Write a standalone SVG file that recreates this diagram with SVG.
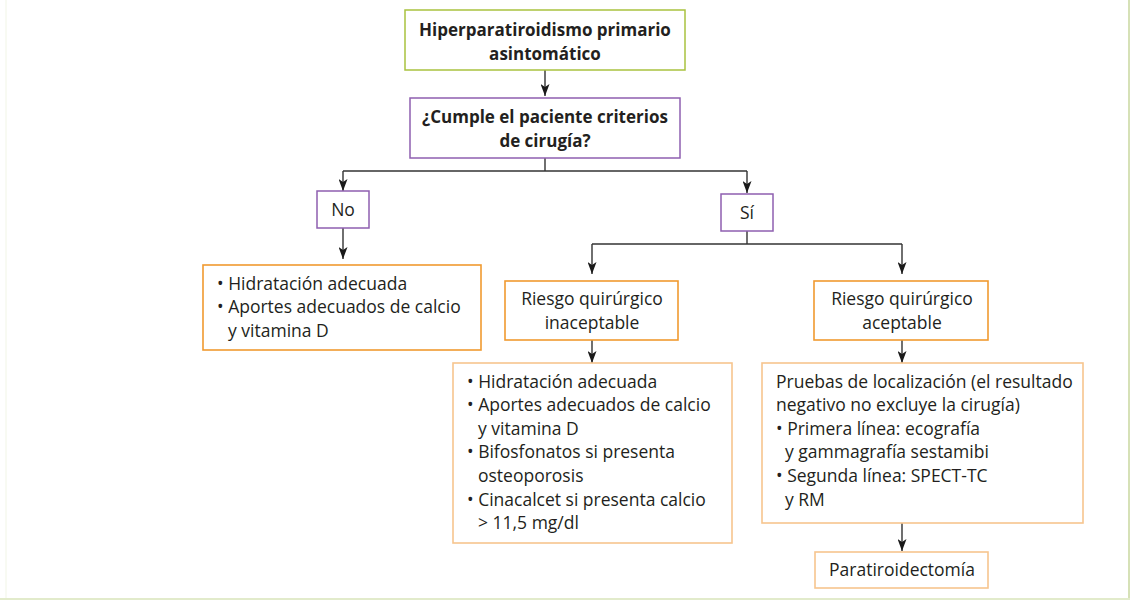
<svg xmlns="http://www.w3.org/2000/svg" width="1130" height="601" viewBox="0 0 1130 601">
<style>
text{font-family:"Open Sans","Noto Sans","Liberation Sans",sans-serif;font-size:17.5px;fill:#231f20}
.b{font-weight:bold;font-size:17px}
.c{text-anchor:middle}
.g{fill:#fff;stroke:#a9c23f;stroke-width:1.5}
.p{fill:#fff;stroke:#8e5fb0;stroke-width:1.5}
.o{fill:#fff;stroke:#f09a30;stroke-width:1.6}
.ol{fill:#fff;stroke:#f7c58e;stroke-width:1.6}
.ln{fill:none;stroke:#333;stroke-width:1.4}
</style>
<defs>
<marker id="a" markerWidth="12" markerHeight="9" refX="12" refY="4.5" orient="auto" markerUnits="userSpaceOnUse" viewBox="0 0 12 9">
<path d="M0,0 L12,4.5 L0,9 L3,4.5 Z" fill="#1a1a1a"/>
</marker>
</defs>
<rect width="1130" height="601" fill="#fff"/>
<g id="frame" fill="none">
<line x1="6" y1="0" x2="6" y2="599" stroke="#f1f5e6" stroke-width="1"/>
<line x1="1129" y1="0" x2="1129" y2="599" stroke="#c9d79f" stroke-width="1.5"/>
<line x1="0" y1="599" x2="1130" y2="599" stroke="#e2ebcb" stroke-width="2"/>
</g>
<g id="connectors">
<path class="ln" d="M545,70 V96" marker-end="url(#a)"/>
<path class="ln" d="M545,158 V171"/>
<path class="ln" d="M343,171 H747"/>
<path class="ln" d="M343,171 V191" marker-end="url(#a)"/>
<path class="ln" d="M747,171 V193" marker-end="url(#a)"/>
<path class="ln" d="M343,228 V259" marker-end="url(#a)"/>
<path class="ln" d="M747,231 V244"/>
<path class="ln" d="M592,244 H902"/>
<path class="ln" d="M592,244 V274" marker-end="url(#a)"/>
<path class="ln" d="M902,244 V274" marker-end="url(#a)"/>
<path class="ln" d="M592,340 V363" marker-end="url(#a)"/>
<path class="ln" d="M902,340 V363" marker-end="url(#a)"/>
<path class="ln" d="M902,523 V551" marker-end="url(#a)"/>
</g>
<g id="n1">
<rect class="g" x="405" y="10" width="280" height="60"/>
<text class="b c" x="545" y="36">Hiperparatiroidismo primario</text>
<text class="b c" x="545" y="60">asintomático</text>
</g>
<g id="n2">
<rect class="p" x="410" y="98" width="270" height="60"/>
<text class="b c" x="545" y="123">¿Cumple el paciente criterios</text>
<text class="b c" x="545" y="147">de cirugía?</text>
</g>
<g id="no">
<rect class="p" x="317" y="191" width="52" height="37"/>
<text class="c" x="343" y="216">No</text>
</g>
<g id="si">
<rect class="p" x="721" y="194" width="52" height="37"/>
<text class="c" x="747" y="219">Sí</text>
</g>
<g id="n-no">
<rect class="o" x="203" y="265" width="278" height="85"/>
<text x="217" y="290">• Hidratación adecuada</text>
<text x="217" y="313">• Aportes adecuados de calcio</text>
<text x="228" y="337">y vitamina D</text>
</g>
<g id="n-inacept">
<rect class="o" x="505" y="281" width="173" height="59"/>
<text class="c" x="592" y="305">Riesgo quirúrgico</text>
<text class="c" x="592" y="329">inaceptable</text>
</g>
<g id="n-acept">
<rect class="o" x="814" y="281" width="174" height="59"/>
<text class="c" x="902" y="305">Riesgo quirúrgico</text>
<text class="c" x="902" y="329">aceptable</text>
</g>
<g id="n-trat">
<rect class="ol" x="453" y="363" width="279" height="180"/>
<text x="467" y="388">• Hidratación adecuada</text>
<text x="467" y="411">• Aportes adecuados de calcio</text>
<text x="478" y="435">y vitamina D</text>
<text x="467" y="458">• Bifosfonatos si presenta</text>
<text x="478" y="482">osteoporosis</text>
<text x="467" y="506">• Cinacalcet si presenta calcio</text>
<text x="478" y="529">&gt; 11,5 mg/dl</text>
</g>
<g id="n-pruebas">
<rect class="ol" x="762" y="363" width="321" height="160"/>
<text x="776" y="388">Pruebas de localización (el resultado</text>
<text x="776" y="411">negativo no excluye la cirugía)</text>
<text x="776" y="435">• Primera línea: ecografía</text>
<text x="785" y="458">y gammagrafía sestamibi</text>
<text x="776" y="482">• Segunda línea: SPECT-TC</text>
<text x="785" y="506">y RM</text>
</g>
<g id="n-para">
<rect class="ol" x="815" y="552" width="173" height="36"/>
<text class="c" x="902" y="576">Paratiroidectomía</text>
</g>
</svg>
